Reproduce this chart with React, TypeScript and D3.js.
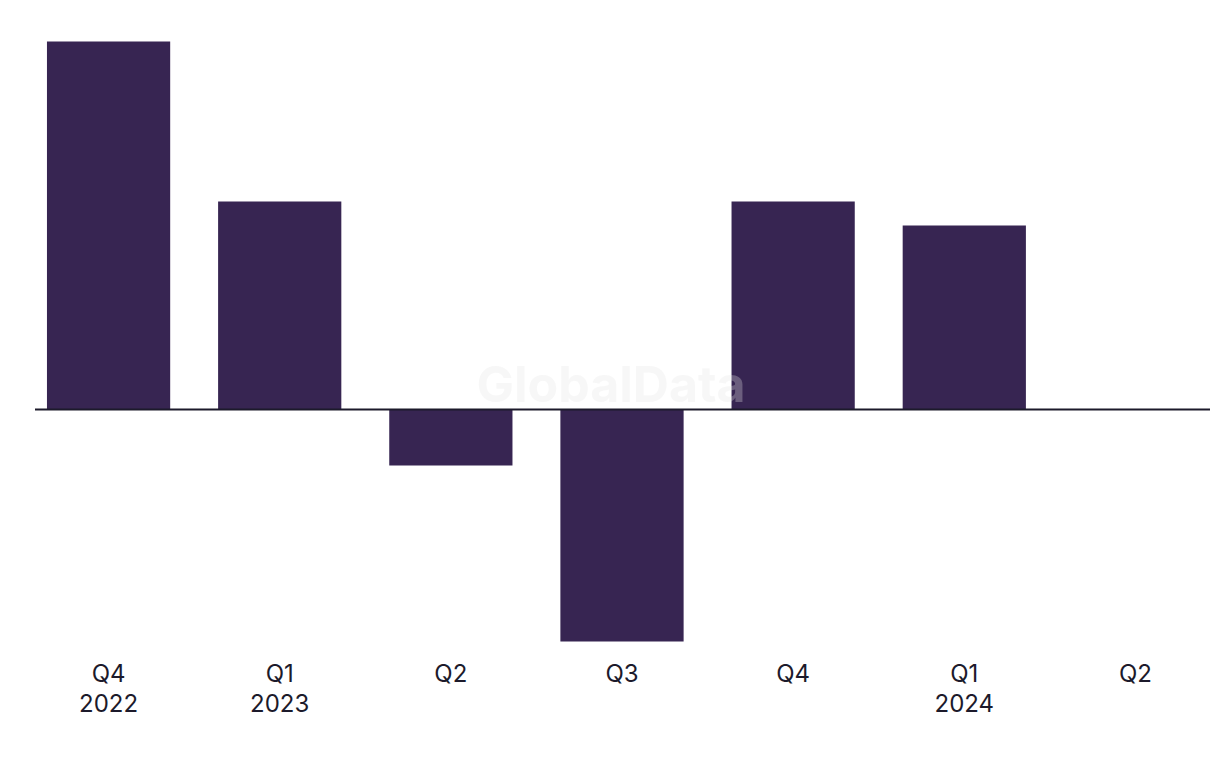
import { useEffect } from "react";
import * as d3 from "d3";

const quarters = ["Q4", "Q1", "Q2", "Q3", "Q4", "Q1", "Q2"];
const years = ["2022", "2023", "", "", "", "2024", ""];
const values = [46, 26, -7, -29, 26, 23, 0];

const width = 1220;
const height = 768;
const barColor = "#372552";
const textColor = "#1c1a2b";

export default function App() {
  useEffect(() => {
    document.body.style.margin = "0";
  }, []);

  const keys = quarters.map((_, i) => String(i));
  const x = d3
    .scaleBand<string>()
    .domain(keys)
    .range([23, 1221])
    .paddingInner(0.28)
    .paddingOuter(0.14);

  const y = d3.scaleLinear().domain([-30, 50]).range([649.5, 9.5]);

  return (
    <svg width={width} height={height} style={{ display: "block" }}>
      <rect width={width} height={height} fill="#ffffff" />
      {values.map((v, i) => (
        <rect
          key={i}
          x={x(keys[i])}
          width={x.bandwidth()}
          y={Math.min(y(v), y(0))}
          height={Math.abs(y(v) - y(0))}
          fill={barColor}
        />
      ))}
      <line x1={35} x2={1210} y1={y(0)} y2={y(0)} stroke={textColor} strokeWidth={2} />
      <text
        x={611}
        y={402}
        textAnchor="middle"
        fontFamily="Inter, 'Noto Sans', sans-serif"
        fontWeight={700}
        fontSize={50}
        fill="#e4e4e4"
        fillOpacity={0.3}
      >
        GlobalData
      </text>
      {quarters.map((q, i) => {
        const cx = (x(keys[i]) ?? 0) + x.bandwidth() / 2;
        return (
          <text
            key={i}
            x={cx}
            textAnchor="middle"
            fontFamily="Inter, 'Noto Sans', sans-serif"
            fontSize={24}
            fill={textColor}
          >
            <tspan x={cx} y={682}>{q}</tspan>
            {years[i] && (
              <tspan x={cx} y={712}>{years[i]}</tspan>
            )}
          </text>
        );
      })}
    </svg>
  );
}
